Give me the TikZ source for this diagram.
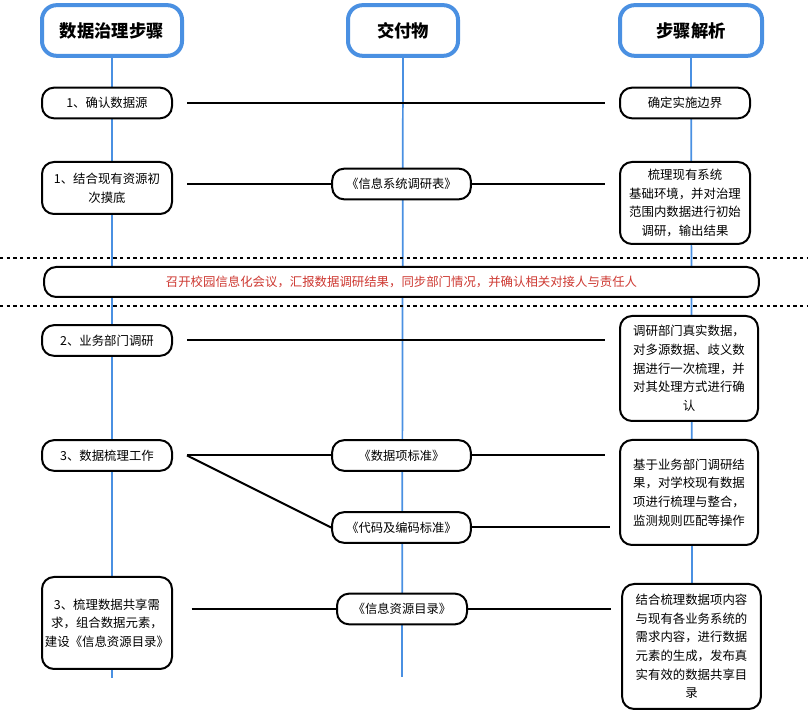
\documentclass[tikz,border=0pt]{standalone}
\usepackage{fontspec}
\setmainfont{Noto Sans CJK SC}
\definecolor{lifeblue}{RGB}{74,144,226}
\definecolor{meetred}{RGB}{206,57,50}

\begin{document}
\begin{tikzpicture}[x=0.75pt,y=-0.75pt,
  headbox/.style={draw=lifeblue,line width=3pt,rounded corners=11pt,fill=white,minimum height=38pt,font=\fontsize{13}{15}\selectfont\bfseries},
  stepbox/.style={draw,line width=1.5pt,rounded corners=9pt,fill=white,align=center,inner sep=2pt,font=\fontsize{9.3}{14}\selectfont},
  pill/.style={stepbox,minimum width=97.5pt,minimum height=23pt},
  docbox/.style={stepbox,minimum width=104pt,minimum height=23pt,font=\fontsize{9.2}{14}\selectfont},
  life/.style={draw=lifeblue,line width=1.3pt},
  link/.style={line width=1.5pt},
  cutline/.style={line width=1.4pt,dash pattern=on 2.5pt off 2.5pt}]
\useasboundingbox (0,0) rectangle (808,712);

\node[headbox,minimum width=105pt] (hstep) at (112,30.5) {数据治理步骤};
\node[headbox,minimum width=82.5pt] (hdoc) at (403,30.5) {交付物};
\node[headbox,minimum width=106.5pt] (hnote) at (691,30.5) {步骤解析};

\coordinate (estep) at (112,678);
\coordinate (edoc) at (402,677);
\coordinate (enote) at (692,600);
\draw[life] (hstep) -- (estep);
\draw[life] (hdoc) -- (edoc);
\draw[life] (hnote) -- (enote);

\node[pill] (s1) at (107,103) {1、确认数据源};
\node[pill] (n1) at (685,103) {确定实施边界};
\draw[link,shorten <=10.5pt,shorten >=10.5pt] (s1) -- (n1);

\node[stepbox,minimum width=97.5pt,minimum height=39pt] (s2) at (107,188) {1、结合现有资源初\\次摸底};
\node[docbox] (d1) at (401.5,184) {《信息系统调研表》};
\node[stepbox,minimum width=97.5pt,minimum height=61.5pt] (n2) at (685,203) {梳理现有系统\\基础环境，并对治理\\范围内数据进行初始\\调研，输出结果};
\draw[link,shorten <=10.5pt] (s2.east |- d1) -- (d1.west);
\draw[link,shorten >=10.5pt] (d1.east) -- (d1.east -| n2.west);

\draw[cutline] (0,258) -- (808,258);
\draw[cutline] (0,306) -- (808,306);
\node[stepbox,minimum width=536pt,minimum height=22.5pt,text=meetred] (meet) at (401.5,282) {召开校园信息化会议，汇报数据调研结果，同步部门情况，并确认相关对接人与责任人};

\node[pill] (s3) at (107,340.5) {2、业务部门调研};
\node[stepbox,minimum width=103.5pt,minimum height=78.75pt] (n3) at (689,368.5) {调研部门真实数据，\\对多源数据、歧义数\\据进行一次梳理，并\\对其处理方式进行确\\认};
\draw[link,shorten <=10.5pt,shorten >=10.5pt] (s3.east) -- (s3.east -| n3.west);

\node[pill] (s4) at (107,455.5) {3、数据梳理工作};
\node[docbox] (d2) at (401.5,455.5) {《数据项标准》};
\node[docbox] (d3) at (401.5,527.5) {《代码及编码标准》};
\node[stepbox,minimum width=103.5pt,minimum height=78.75pt] (n4) at (689,492.5) {基于业务部门调研结\\果，对学校现有数据\\项进行梳理与整合，\\监测规则匹配等操作};
\coordinate (s4x) at ([xshift=10.5pt]s4.east);
\draw[link] (s4x) -- (d2.west);
\draw[link] (s4x) -- (d3.west);
\draw[link,shorten >=10.5pt] (d2.east) -- (d2.east -| n4.west);
\draw[link,shorten >=7pt] (d3.east) -- (d3.east -| n4.west);

\node[stepbox,minimum width=97.5pt,minimum height=69pt] (s5) at (107,623) {3、梳理数据共享需\\求，组合数据元素，\\建设《信息资源目录》};
\node[docbox,minimum width=97.5pt] (d4) at (402,609) {《信息资源目录》};
\node[stepbox,minimum width=104pt,minimum height=93.75pt] (n5) at (691.5,646.5) {结合梳理数据项内容\\与现有各业务系统的\\需求内容，进行数据\\元素的生成，发布真\\实有效的数据共享目\\录};
\draw[link,shorten <=14pt] (s5.east |- d4) -- (d4.west);
\draw[link,shorten >=8pt] (d4.east) -- (d4.east -| n5.west);
\end{tikzpicture}
\end{document}
